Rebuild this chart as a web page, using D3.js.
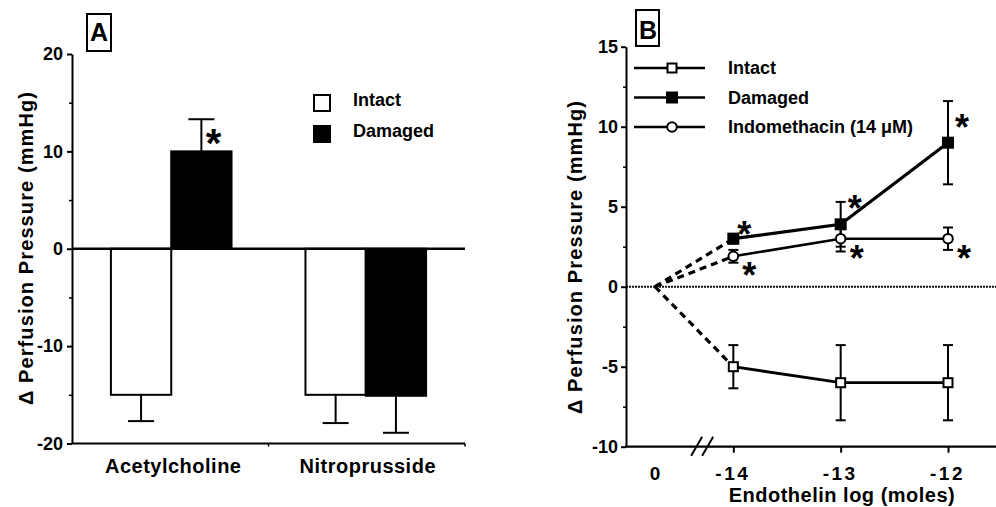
<!DOCTYPE html>
<html>
<head>
<meta charset="utf-8">
<script src="https://cdn.jsdelivr.net/npm/d3@7"></script>
<style>
  html, body { margin: 0; padding: 0; background: #fff; }
  svg { display: block; }
  text { font-family: "Liberation Sans", Arial, Helvetica, sans-serif; font-weight: bold; fill: #000; }
</style>
</head>
<body>
<svg id="chart" width="996" height="507"></svg>
<script>
// ---------------- DATA ----------------
// Panel A
const categoriesA = ["Acetylcholine", "Nitroprusside"];
const seriesA = ["Intact", "Damaged"];
const intactMeanA = [-15, -15];
const intactErrA = [2.7, 2.9];
const damagedMeanA = [10, -15.1];
const damagedErrA = [3.3, 3.8];
const significantA = [["Acetylcholine", "Damaged"]];
const yTicksA = [-20, -10, 0, 10, 20];
const yMinorTicksA = [-15, -5, 5, 15];

// Panel B
const dosesB = [-14, -13, -12];
const doseLabelsB = ["-14", "-13", "-12"];
const controlLabelB = "0";
const seriesB = ["Intact", "Damaged", "Indomethacin (14 \u03BCM)"];
const intactB = [-5, -6, -6];
const intactErrB = [1.35, 2.35, 2.35];
const damagedB = [3, 3.9, 9];
const damagedErrB = [0.3, 1.4, 2.6];
const indoB = [1.9, 3, 3];
const indoErrB = [0.4, 0.8, 0.7];
const significantB = [["Damaged", -14], ["Damaged", -13], ["Damaged", -12],
                      ["Indomethacin (14 \u03BCM)", -14], ["Indomethacin (14 \u03BCM)", -13], ["Indomethacin (14 \u03BCM)", -12]];
const yTicksB = [-10, -5, 0, 5, 10, 15];
const yMinorTicksB = [-7.5, -2.5, 2.5, 7.5, 12.5];
const controlDose = -14.73; // where the "0" (control) point sits on the broken axis

// ---------------- DRAW ----------------
const svg = d3.select("#chart");
const FONT = '"Liberation Sans", Arial, Helvetica, sans-serif';
const fmt = d => String(d); // plain hyphen-minus, as in the original

function starText(g, cx, cy, size) {
  g.append("text").attr("x", cx).attr("y", cy + size * 0.56)
    .attr("text-anchor", "middle").style("font-size", size + "px").text("*");
}

// ===== Panel A =====
(function () {
  const left = 72, right = 465, top = 54, bottom = 443.5;
  const y = d3.scaleLinear().domain([-20, 20]).range([bottom, top]);
  const x0 = d3.scaleBand().domain(categoriesA).range([left, right]).paddingInner(0.38).paddingOuter(0.2);
  const x1 = d3.scaleBand().domain(seriesA).range([0, x0.bandwidth()]);
  const g = svg.append("g");

  const rows = categoriesA.flatMap((c, i) => [
    { cat: c, s: "Intact", v: intactMeanA[i], e: intactErrA[i] },
    { cat: c, s: "Damaged", v: damagedMeanA[i], e: damagedErrA[i] }
  ]);

  rows.forEach(d => {
    const cx = x0(d.cat) + x1(d.s) + x1.bandwidth() / 2;
    const tip = d.v >= 0 ? d.v + d.e : d.v - d.e;
    g.append("line").attr("x1", cx).attr("x2", cx).attr("y1", y(d.v)).attr("y2", y(tip))
      .attr("stroke", "#000").attr("stroke-width", 2);
    g.append("line").attr("x1", cx - 13).attr("x2", cx + 13).attr("y1", y(tip)).attr("y2", y(tip))
      .attr("stroke", "#000").attr("stroke-width", 2);
  });

  g.selectAll("rect.bar").data(rows).join("rect").attr("class", "bar")
    .attr("x", d => x0(d.cat) + x1(d.s))
    .attr("width", x1.bandwidth())
    .attr("y", d => y(Math.max(0, d.v)))
    .attr("height", d => Math.abs(y(d.v) - y(0)))
    .attr("fill", d => d.s === "Intact" ? "#fff" : "#000")
    .attr("stroke", "#000").attr("stroke-width", 2);

  g.append("line").attr("x1", left).attr("x2", right).attr("y1", y(0)).attr("y2", y(0))
    .attr("stroke", "#000").attr("stroke-width", 2.4);

  const ya = g.append("g").attr("transform", `translate(${left},0)`)
    .call(d3.axisLeft(y).tickValues(yTicksA).tickFormat(fmt).tickSize(5).tickSizeOuter(0).tickPadding(4));
  ya.select(".domain").attr("stroke-width", 2);
  ya.selectAll(".tick line").attr("stroke-width", 2);
  ya.selectAll(".tick text").style("font-size", "18px").style("font-family", FONT).style("font-weight", "bold");
  const ym = g.append("g").attr("transform", `translate(${left},0)`)
    .call(d3.axisLeft(y).tickValues(yMinorTicksA).tickSize(3).tickFormat(""));
  ym.select(".domain").remove();
  ym.selectAll(".tick line").attr("stroke-width", 1.5);

  g.append("line").attr("x1", left - 1).attr("x2", right).attr("y1", bottom).attr("y2", bottom)
    .attr("stroke", "#000").attr("stroke-width", 2.2);
  const mid = (x0(categoriesA[0]) + x0.bandwidth() + x0(categoriesA[1])) / 2;
  [mid, right].forEach(xx => g.append("line").attr("x1", xx).attr("x2", xx)
    .attr("y1", bottom).attr("y2", bottom + 3).attr("stroke", "#000").attr("stroke-width", 1.5));
  categoriesA.forEach(c => {
    g.append("text").attr("x", x0(c) + x0.bandwidth() / 2 + 2).attr("y", 473)
      .attr("text-anchor", "middle").style("font-size", "20px").style("letter-spacing", "0.5px").text(c);
  });

  significantA.forEach(([c, s]) => {
    const i = categoriesA.indexOf(c);
    const cx = x0(c) + x1(s) + x1.bandwidth();
    starText(g, cx - 18, y(damagedMeanA[i]) - 17, 40);
  });

  g.append("text").attr("transform", `translate(33,248) rotate(-90)`)
    .attr("text-anchor", "middle").style("font-size", "20px").style("letter-spacing", "1.1px")
    .text("\u0394 Perfusion Pressure (mmHg)");

  g.append("rect").attr("x", 87).attr("y", 14).attr("width", 24).attr("height", 37)
    .attr("fill", "none").attr("stroke", "#000").attr("stroke-width", 2);
  g.append("text").attr("x", 99).attr("y", 41).attr("text-anchor", "middle").style("font-size", "25px").text("A");

  seriesA.forEach((s, i) => {
    const yy = 95 + i * 31;
    g.append("rect").attr("x", 314).attr("y", yy).attr("width", 16).attr("height", 16)
      .attr("fill", s === "Intact" ? "#fff" : "#000").attr("stroke", "#000").attr("stroke-width", 2);
    g.append("text").attr("x", 353).attr("y", yy + 11).style("font-size", "18px").text(s);
  });
})();

// ===== Panel B =====
(function () {
  const left = 626, top = 46.7, bottom = 446.7, right = 996;
  const y = d3.scaleLinear().domain([-10, 15]).range([bottom, top]);
  const x = d3.scaleLinear().domain([-15, -12]).range([left, 948]);
  const g = svg.append("g");

  g.append("line").attr("x1", left).attr("x2", right).attr("y1", y(0)).attr("y2", y(0))
    .attr("stroke", "#111").attr("stroke-width", 2).attr("stroke-dasharray", "2,1");

  const data = [
    { name: seriesB[0], v: intactB, e: intactErrB, marker: "square", fill: "#fff", lw: 2.8 },
    { name: seriesB[1], v: damagedB, e: damagedErrB, marker: "square", fill: "#000", lw: 3.2 },
    { name: seriesB[2], v: indoB, e: indoErrB, marker: "circle", fill: "#fff", lw: 2.6 }
  ];

  const line = d3.line().x(d => x(d[0])).y(d => y(d[1]));

  data.forEach(s => {
    const pts = dosesB.map((d, i) => [d, s.v[i]]);
    g.append("path").attr("d", line([[controlDose, 0], pts[0]]))
      .attr("fill", "none").attr("stroke", "#000").attr("stroke-width", 3.2).attr("stroke-dasharray", "7,5");
    dosesB.forEach((d, i) => {
      const cx = x(d);
      const y1 = y(s.v[i] + s.e[i]), y2 = y(s.v[i] - s.e[i]);
      g.append("line").attr("x1", cx).attr("x2", cx).attr("y1", y1).attr("y2", y2).attr("stroke", "#000").attr("stroke-width", 2);
      [y1, y2].forEach(yy => g.append("line").attr("x1", cx - 5).attr("x2", cx + 5).attr("y1", yy).attr("y2", yy)
        .attr("stroke", "#000").attr("stroke-width", 2));
    });
    g.append("path").attr("d", line(pts)).attr("fill", "none").attr("stroke", "#000").attr("stroke-width", s.lw);
  });

  function drawMarker(sel, s, cx, cy) {
    if (s.marker === "square") {
      const sz = s.fill === "#000" ? 10 : 9;
      sel.append("rect").attr("x", cx - sz / 2).attr("y", cy - sz / 2).attr("width", sz).attr("height", sz)
        .attr("fill", s.fill).attr("stroke", "#000").attr("stroke-width", 2);
    } else {
      sel.append("circle").attr("cx", cx).attr("cy", cy).attr("r", 4.8)
        .attr("fill", s.fill).attr("stroke", "#000").attr("stroke-width", 2);
    }
  }
  data.forEach(s => dosesB.forEach((d, i) => drawMarker(g, s, x(d), y(s.v[i]))));

  significantB.forEach(([name, dose]) => {
    const s = data.find(dd => dd.name === name);
    const i = dosesB.indexOf(dose);
    const cx = x(dose), cy = y(s.v[i]);
    if (name === seriesB[1]) starText(g, cx + (i === 0 ? 11 : 14), cy - (i === 0 ? 12 : 23), 36);
    else starText(g, cx + 16, cy + 12, 36);
  });

  const ya = g.append("g").attr("transform", `translate(${left},0)`)
    .call(d3.axisLeft(y).tickValues(yTicksB).tickFormat(fmt).tickSize(5).tickSizeOuter(0).tickPadding(3));
  ya.select(".domain").attr("stroke-width", 2);
  ya.selectAll(".tick line").attr("stroke-width", 2);
  ya.selectAll(".tick text").style("font-size", "18px").style("font-family", FONT).style("font-weight", "bold");
  const ym = g.append("g").attr("transform", `translate(${left},0)`)
    .call(d3.axisLeft(y).tickValues(yMinorTicksB).tickSize(3).tickFormat(""));
  ym.select(".domain").remove();
  ym.selectAll(".tick line").attr("stroke-width", 1.5);

  g.append("line").attr("x1", left - 1).attr("x2", right).attr("y1", bottom).attr("y2", bottom)
    .attr("stroke", "#000").attr("stroke-width", 2.2);
  const xa = g.append("g").attr("transform", `translate(0,${bottom})`)
    .call(d3.axisBottom(x).tickValues(dosesB).tickFormat((d, i) => doseLabelsB[i]).tickSize(6).tickPadding(14));
  xa.select(".domain").remove();
  xa.selectAll(".tick line").attr("stroke-width", 2);
  xa.selectAll(".tick text").style("font-size", "19px").style("font-family", FONT).style("font-weight", "bold")
    .style("letter-spacing", "2.5px").attr("dx", "-1");
  g.append("text").attr("x", x(controlDose)).attr("y", 480).attr("text-anchor", "middle")
    .style("font-size", "19px").text(controlLabelB);
  const bx = (x(controlDose) + x(dosesB[0])) / 2 + 8;
  [-6, 5].forEach(o => g.append("line").attr("x1", bx + o - 5).attr("x2", bx + o + 6)
    .attr("y1", bottom + 9).attr("y2", bottom - 10).attr("stroke", "#000").attr("stroke-width", 2));

  g.append("text").attr("x", 842).attr("y", 502).attr("text-anchor", "middle")
    .style("font-size", "20px").style("letter-spacing", "0.5px").text("Endothelin log (moles)");

  g.append("text").attr("transform", `translate(582,257) rotate(-90)`)
    .attr("text-anchor", "middle").style("font-size", "20px").style("letter-spacing", "1.1px")
    .text("\u0394 Perfusion Pressure (mmHg)");

  g.append("rect").attr("x", 636).attr("y", 10).attr("width", 23).attr("height", 36)
    .attr("fill", "none").attr("stroke", "#000").attr("stroke-width", 2);
  g.append("text").attr("x", 648).attr("y", 39).attr("text-anchor", "middle").style("font-size", "25px").text("B");

  data.forEach((s, i) => {
    const yy = 68 + i * 29.5;
    g.append("line").attr("x1", 634).attr("x2", 705).attr("y1", yy).attr("y2", yy)
      .attr("stroke", "#000").attr("stroke-width", 2.5);
    drawMarker(g, s, 672, yy);
    g.append("text").attr("x", 728).attr("y", yy + 6).style("font-size", "18px").text(s.name);
  });
})();
</script>
</body>
</html>
